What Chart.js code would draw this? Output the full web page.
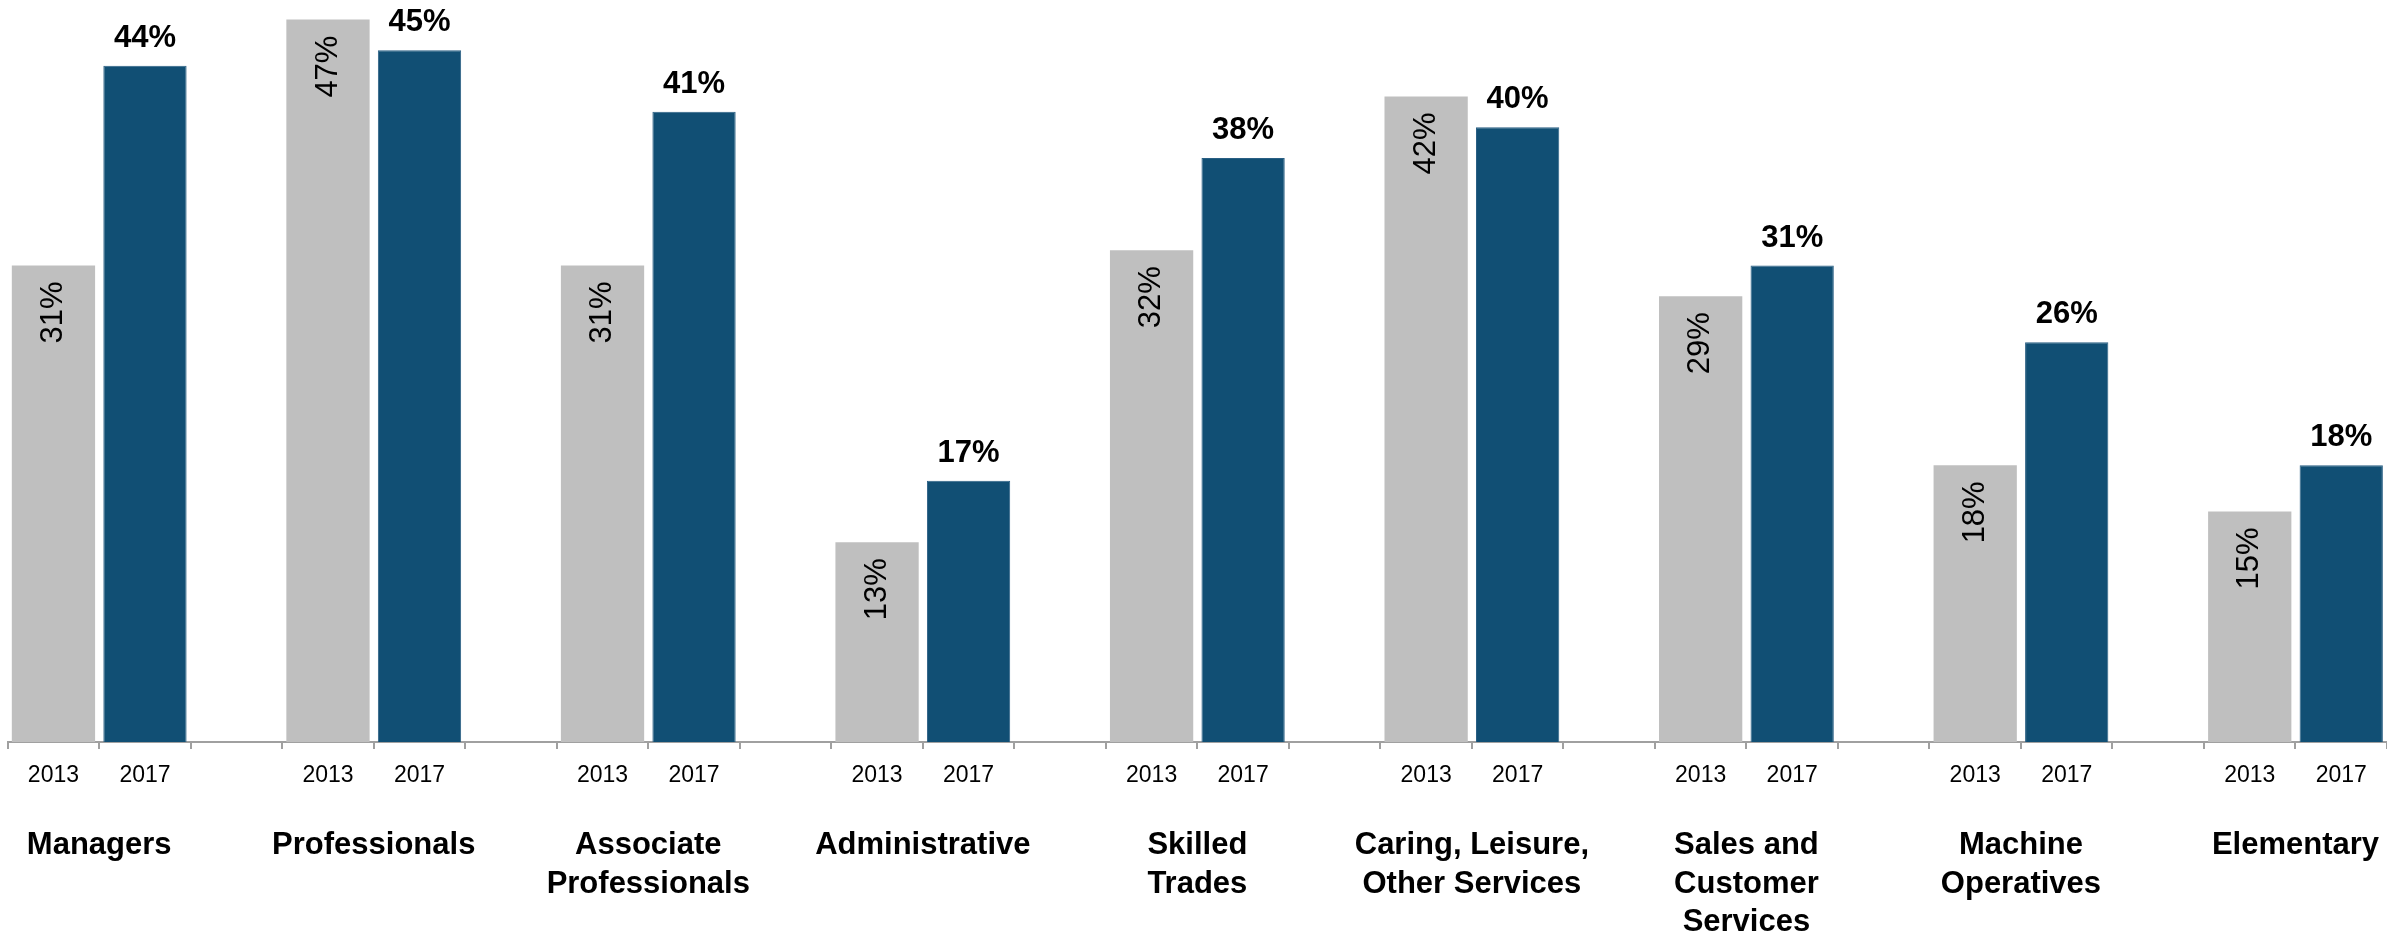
<!DOCTYPE html>
<html>
<head>
<meta charset="utf-8">
<script src="https://cdn.jsdelivr.net/npm/chart.js@4.4.0/dist/chart.umd.min.js"></script>
<style>
  html, body { margin: 0; padding: 0; background: #fff; }
  #wrap { width: 2387px; height: 935px; position: relative; }
</style>
</head>
<body>
<div id="wrap"><canvas id="ocupacionesChart"></canvas></div>
<script>
const occupations = [
    ['Managers'],
    ['Professionals'],
    ['Associate', 'Professionals'],
    ['Administrative'],
    ['Skilled', 'Trades'],
    ['Caring, Leisure,', 'Other Services'],
    ['Sales and', 'Customer', 'Services'],
    ['Machine', 'Operatives'],
    ['Elementary']
];
const years = ['2013', '2017'];
const values2013 = [31, 47, 31, 13, 32, 42, 29, 18, 15];
const values2017 = [44, 45, 41, 17, 38, 40, 31, 26, 18];

const GRAY = '#bfbfbf';
const BLUE = '#114f74';
const FONT = '"Liberation Sans", Arial, sans-serif';

// one slot per year plus an empty spacer slot between occupations
const slotLabels = [];
const slot2013 = [];
const slot2017 = [];
occupations.forEach((occ, i) => {
    slotLabels.push(years[0], years[1]);
    slot2013.push(values2013[i], null);
    slot2017.push(null, values2017[i]);
    if (i < occupations.length - 1) {
        slotLabels.push('');
        slot2013.push(null);
        slot2017.push(null);
    }
});

const valueLabels = {
    id: 'valueLabels',
    afterDatasetsDraw(chart) {
        const ctx = chart.ctx;
        ctx.save();
        ctx.fillStyle = '#000';

        // 2013: rotated, inside the top of the grey bar
        ctx.font = `31px ${FONT}`;
        ctx.textAlign = 'right';
        ctx.textBaseline = 'middle';
        chart.getDatasetMeta(0).data.forEach((bar, i) => {
            if (slot2013[i] == null) return;
            ctx.save();
            ctx.translate(bar.x, bar.y + 16);
            ctx.rotate(-Math.PI / 2);
            ctx.fillText(`${slot2013[i]}%`, 0, 0);
            ctx.restore();
        });

        // 2017: bold, above the blue bar
        ctx.font = `bold 31px ${FONT}`;
        ctx.textAlign = 'center';
        ctx.textBaseline = 'alphabetic';
        chart.getDatasetMeta(1).data.forEach((bar, i) => {
            if (slot2017[i] == null) return;
            ctx.fillText(`${slot2017[i]}%`, bar.x, bar.y - 19);
        });
        ctx.restore();
    }
};

const groupLabels = {
    id: 'groupLabels',
    afterDraw(chart) {
        const xScale = chart.scales.x;
        const ctx = chart.ctx;
        const firstLine = chart.chartArea.bottom + 112;
        ctx.save();
        ctx.font = `bold 31px ${FONT}`;
        ctx.textAlign = 'center';
        ctx.textBaseline = 'alphabetic';
        ctx.fillStyle = '#000';
        occupations.forEach((lines, i) => {
            const cx = (xScale.getPixelForValue(3 * i) + xScale.getPixelForValue(3 * i + 1)) / 2;
            lines.forEach((line, j) => ctx.fillText(line, cx, firstLine + j * 38.5));
        });
        ctx.restore();
    }
};

new Chart(document.getElementById('ocupacionesChart'), {
    type: 'bar',
    data: {
        labels: slotLabels,
        datasets: [
            {
                label: years[0],
                data: slot2013,
                backgroundColor: GRAY,
                grouped: false,
                barPercentage: 0.91,
                categoryPercentage: 1
            },
            {
                label: years[1],
                data: slot2017,
                backgroundColor: BLUE,
                borderColor: '#2a5f84',
                borderWidth: 1,
                grouped: false,
                barPercentage: 0.91,
                categoryPercentage: 1
            }
        ]
    },
    options: {
        responsive: true,
        maintainAspectRatio: false,
        animation: false,
        layout: { padding: { top: 4.2, left: 7.7, right: 0, bottom: 0 } },
        plugins: {
            legend: { display: false },
            tooltip: { enabled: false }
        },
        scales: {
            x: {
                grid: {
                    display: true,
                    drawOnChartArea: false,
                    drawTicks: true,
                    tickLength: 7,
                    color: '#a0a0a0',
                    lineWidth: 2,
                    offset: true
                },
                border: { display: true, color: '#a0a0a0', width: 2 },
                ticks: {
                    color: '#000',
                    font: { family: FONT, size: 23 },
                    padding: 13,
                    autoSkip: false,
                    maxRotation: 0
                },
                afterFit: (scale) => { scale.height = 193; }
            },
            y: { display: false, min: 0, max: 48 }
        }
    },
    plugins: [valueLabels, groupLabels]
});
</script>
</body>
</html>
